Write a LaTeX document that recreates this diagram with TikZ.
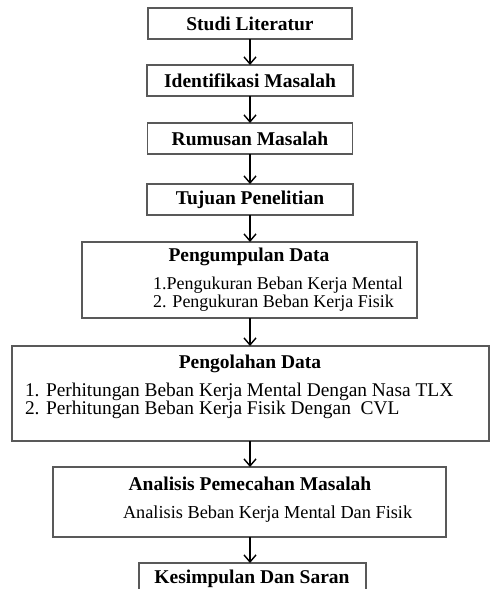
\documentclass[tikz,border=0pt]{standalone}
\usepackage{fontspec}
\setmainfont{Liberation Serif}
\usetikzlibrary{arrows.meta}
\begin{document}
\begin{tikzpicture}[x=1pt,y=-1pt,inner sep=0pt,outer sep=0pt,
stepbox/.style={draw=gray!70!black,rectangle,line width=1.2pt,fill=white},
head/.style={font=\fontsize{19.5}{22}\selectfont\bfseries},
item/.style={font=\fontsize{#1}{22}\selectfont,anchor=west},
item/.default=19.4,
flow/.style={-{Straight Barb[length=7pt,width=12pt]},line width=1.4pt}]
\useasboundingbox (0,0) rectangle (491,589);
\clip (0,0) rectangle (491,589);
% tahapan sederhana
\draw (250,23.5) node[stepbox,minimum width=204,minimum height=31,head] (studi) {Studi Literatur};
\draw (250,80.5) node[stepbox,minimum width=206,minimum height=31,head] (ident) {Identifikasi Masalah};
\draw (250,138.5) node[stepbox,minimum width=205,minimum height=31,head] (rumus) {Rumusan Masalah};
\draw (250,199.5) node[stepbox,minimum width=206,minimum height=31,head] (tujuan) {Tujuan Penelitian};
% tahapan dengan rincian
\draw (249.5,280) node[stepbox,minimum width=335,minimum height=76] (kumpul) {};
\draw (249,257) node[head] (kumpul-t) {Pengumpulan Data};
\draw (153,285) node[item=18] (kumpul-1) {1.Pengukuran Beban Kerja Mental};
\draw (153,303) node[item=18] (kumpul-2) {2. Pengukuran Beban Kerja Fisik};
\draw (250.5,393.5) node[stepbox,minimum width=477,minimum height=95] (olah) {};
\draw (250,364) node[head] (olah-t) {Pengolahan Data};
\draw (25,392) node[item] (olah-1) {1. Perhitungan Beban Kerja Mental Dengan Nasa TLX};
\draw (25,410) node[item] (olah-2) {2. Perhitungan Beban Kerja Fisik Dengan \ CVL};
\draw (249.5,502) node[stepbox,minimum width=393,minimum height=70] (anal) {};
\draw (250,484) node[head] (anal-t) {Analisis Pemecahan Masalah};
\draw (123,514) node[item=18.3] (anal-1) {Analisis Beban Kerja Mental Dan Fisik};
\draw (252.5,563) node[stepbox,anchor=north,minimum width=227,minimum height=44] (simpul) {};
\draw (252,579) node[head] (simpul-t) {Kesimpulan Dan Saran};
% panah alur
\draw[flow] (studi.south) -- (studi.south |- ident.north);
\draw[flow] (ident.south) -- (ident.south |- rumus.north);
\draw[flow] (rumus.south) -- (rumus.south |- tujuan.north);
\draw[flow] (tujuan.south) -- (tujuan.south |- kumpul.north);
\draw[flow] (tujuan.south |- kumpul.south) -- (tujuan.south |- olah.north);
\draw[flow] (tujuan.south |- olah.south) -- (tujuan.south |- anal.north);
\draw[flow] (tujuan.south |- anal.south) -- (tujuan.south |- simpul.north);
\end{tikzpicture}
\end{document}
